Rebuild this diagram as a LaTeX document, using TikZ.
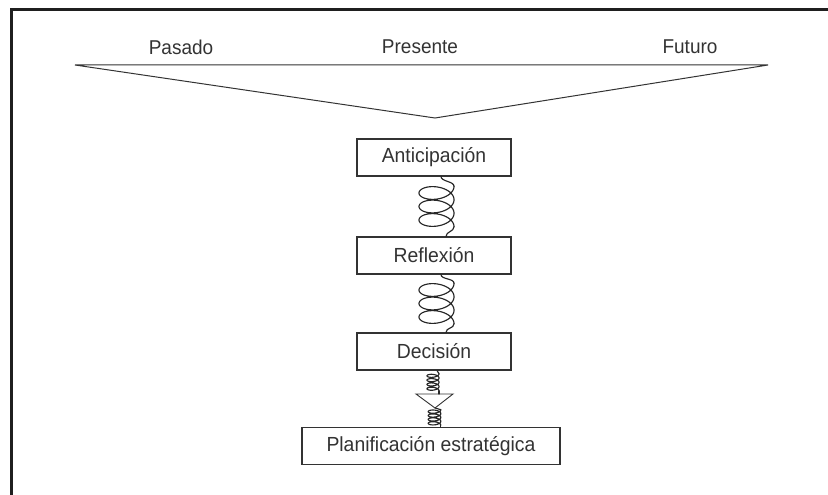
\documentclass[tikz,border=0pt]{standalone}
\usepackage{fontspec}
\setmainfont[FakeStretch=0.95]{Liberation Sans}
\usetikzlibrary{calc}
\definecolor{ink}{HTML}{333333}
\newcommand{\mycoil}[6]{% #1 prefix, #2 R, #3 h, #4 pitch, #5 turns, #6 xoff
  \pgfmathsetmacro\myhs{#4*#5/2}%
  \pgfmathsetmacro\mydend{#5*360}%
  \pgfmathtruncatemacro\myns{#5*72}%
  \draw[spr] plot[domain=0:\mydend, samples=\myns, smooth] ({#6+#2*cos(\x)}, {-\myhs+#4*\x/360+#3*sin(\x)});
  \coordinate (#1s) at (#6+#2, -\myhs);
  \coordinate (#1e) at (#6+#2, \myhs);
}
\begin{document}
\begin{tikzpicture}[x=1pt,y=-1pt,
  lbl/.style={font=\fontsize{20}{24}\selectfont, text=ink, inner sep=0pt},
  box/.style={draw=ink, line width=1.1pt, font=\fontsize{20.4}{24}\selectfont, text=ink, minimum height=37pt, inner sep=0pt},
  spr/.style={draw=black!85, line width=1.15pt, line cap=round, line join=round},
  thinln/.style={draw=ink, line width=1pt, line join=miter},
  frame/.style={draw=black!88, line width=2.7pt}]
\useasboundingbox (0,0) rectangle (828,495);
% frame (left and top only)
\draw[frame] (11.3,495) -- (11.3,9.7) -- (828,9.7);
% time labels
\node[lbl] (pas) at (181,47) {Pasado};
\node[lbl] (pre) at (420,47) {Presente};
\node[lbl] (fut) at (690,47) {Futuro};
% big funnel
\coordinate (tl) at (75,65);
\coordinate (tr) at (768,65);
\coordinate (ta) at (435,118);
\draw[thinln] (tl) -- (tr) -- (ta) -- cycle;
% boxes
\node[box, minimum width=154pt] (ant) at (434,157.5) {Anticipación};
\node[box, minimum width=154pt] (ref) at (434,255.5) {Reflexión};
\node[box, minimum width=154pt] (dec) at (434,351.5) {Decisión};
\node[box, minimum width=258pt] (pla) at (431,446) {Planificación estratégica};
% spring 1
\coordinate (m1) at ($(ant.south)!0.5!(ref.north)$);
\begin{scope}[shift={(m1)}]
  \mycoil{ca}{17.5}{9.5}{13.5}{3}{2.5}
\end{scope}
\draw[spr] ([xshift=7pt]ant.south) .. controls +(0,5) and +(0,-5) .. (cas);
\draw[spr] (cae) .. controls +(0,5) and +(0,-5) .. ([xshift=12pt]ref.north);
% spring 2
\coordinate (m2) at ($(ref.south)!0.5!(dec.north)$);
\begin{scope}[shift={(m2)}]
  \mycoil{cb}{17.5}{9.5}{13.5}{3}{2.5}
\end{scope}
\draw[spr] ([xshift=7pt]ref.south) .. controls +(0,5) and +(0,-5) .. (cbs);
\draw[spr] (cbe) .. controls +(0,5) and +(0,-5) .. ([xshift=12pt]dec.north);
% small funnel
\coordinate (fl) at (416,394);
\coordinate (fr) at (453,394);
\coordinate (fa) at (435,408);
\draw[thinln, line width=0.9pt] (fl) -- (fr) -- (fa) -- cycle;
% small spring upper
\coordinate (m3) at ($(dec.south)!0.5!(fl -| dec.south)$);
\begin{scope}[shift={(m3)}]
  \mycoil{cc}{6}{2.5}{4.3}{4}{-1}
\end{scope}
\draw[spr] ([xshift=3pt]dec.south) -- (ccs);
\draw[spr] (cce) -- (fl -| cce);
% small spring lower
\coordinate (m4) at ($(fa)!0.5!(pla.north -| fa)$);
\begin{scope}[shift={(m4)}]
  \mycoil{cd}{6.3}{2.5}{3.9}{4}{-0.5}
\end{scope}
\draw[spr] (fa) -- (cds);
\draw[spr] (cde) -- (pla.north -| cde);
\end{tikzpicture}
\end{document}
